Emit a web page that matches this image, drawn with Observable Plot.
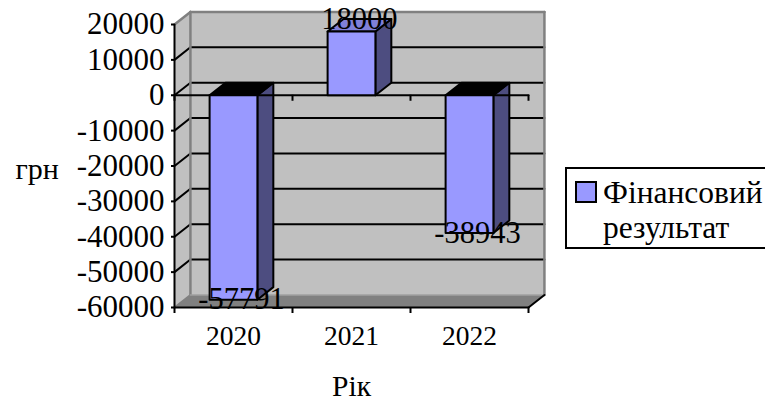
<!DOCTYPE html>
<html lang="uk">
<head>
<meta charset="utf-8">
<script src="https://cdn.jsdelivr.net/npm/d3@7"></script>
<script src="https://cdn.jsdelivr.net/npm/@observablehq/plot@0.6"></script>
<style>
  html, body { margin: 0; padding: 0; background: #fff; overflow: hidden; }
  #chart { position: relative; width: 765px; height: 403px; overflow: hidden; }
  #chart, #chart * , #chart svg text { font-family: "Liberation Serif", "Times New Roman", serif !important; }
  #legend { position: absolute; left: 565px; top: 167px; width: 210px; height: 78px; border: 2px solid #000; background: #fff; color: #000; font-size: 31.5px; line-height: 35px; }
  #legend .swatch { position: absolute; left: 8px; top: 12px; width: 18px; height: 18px; background: #9999ff; border: 2px solid #000; }
  #legend .label { position: absolute; left: 36px; top: 6px; white-space: nowrap; }
</style>
</head>
<body>
<div id="chart">
  <div id="legend"><span class="swatch"></span><span class="label" id="legend-label"></span></div>
</div>
<script>
const years = ["2020", "2021", "2022"];
const results = [-57791, 18000, -38943];
const yTicks = [20000, 10000, 0, -10000, -20000, -30000, -40000, -50000, -60000];
const seriesName = ["Фінансовий", "результат"];
const categoryEdges = [0, 1, 2, 3];

// Pseudo-3D depth, in data units of each axis
const depthX = 0.135;
const depthY = 3550;
const barWidth = 0.405;
const yMin = -60000, yMax = 20000;

const face = (pts, fill, stroke = "none", strokeWidth = 2) =>
  Plot.line(pts.map(([x, y]) => ({x, y})), {x: "x", y: "y", fill, stroke, strokeWidth, strokeLinejoin: "round"});

const seg = (x1, y1, x2, y2, stroke = "#000", strokeWidth = 2) =>
  Plot.line([{x: x1, y: y1}, {x: x2, y: y2}], {x: "x", y: "y", stroke, strokeWidth});

const marks = [];

// Walls and floor
marks.push(face([[0, yMin], [depthX, yMin + depthY], [depthX, yMax + depthY], [0, yMax]], "#c0c0c0"));
marks.push(face([[depthX, yMin + depthY], [3 + depthX, yMin + depthY], [3 + depthX, yMax + depthY], [depthX, yMax + depthY]], "#c0c0c0"));
marks.push(face([[0, yMin], [depthX, yMin + depthY], [3 + depthX, yMin + depthY], [3, yMin]], "#808080"));

// Gridlines across the back wall and down the side wall
for (const t of yTicks.slice(1, -1)) {
  marks.push(seg(depthX, t + depthY, 3 + depthX, t + depthY));
  marks.push(seg(0, t, depthX, t + depthY));
}
marks.push(seg(0, yMin, depthX, yMin + depthY, "#808080"));

// Wall edges
marks.push(seg(0, yMax, depthX, yMax + depthY, "#808080", 2.5));
marks.push(seg(depthX, yMax + depthY, 3 + depthX, yMax + depthY, "#808080", 2.5));
marks.push(seg(depthX, yMax + depthY, depthX, yMin + depthY, "#808080", 2.5));
marks.push(seg(3 + depthX, yMax + depthY, 3 + depthX, yMin + depthY, "#808080", 2.5));
marks.push(seg(depthX, yMin + depthY, 3 + depthX, yMin + depthY, "#a0a0a0", 1.5));
marks.push(seg(3, yMin, 3 + depthX, yMin + depthY));

// Bars: side and top faces
results.forEach((v, i) => {
  const x1 = i + 0.5 - barWidth / 2;
  const x2 = i + 0.5 + barWidth / 2;
  const top = Math.max(v, 0);
  const topFill = v >= 0 ? "#8080d8" : "#000";
  marks.push(face([[x2, 0], [x2 + depthX, depthY], [x2 + depthX, v + depthY], [x2, v], [x2, 0]], "#4d4d80", "#000", 2));
  marks.push(face([[x1, top], [x1 + depthX, top + depthY], [x2 + depthX, top + depthY], [x2, top], [x1, top]], topFill, "#000", 2));
});

// Zero axis runs in front of the walls but behind the bar fronts
marks.push(seg(0, 0, 3, 0));
marks.push(Plot.ruleX(categoryEdges, {x: d => d, y1: 0, y2: -1700, stroke: "#000", strokeWidth: 2}));

results.forEach((v, i) => {
  const x1 = i + 0.5 - barWidth / 2;
  const x2 = i + 0.5 + barWidth / 2;
  marks.push(face([[x1, 0], [x2, 0], [x2, v], [x1, v], [x1, 0]], "#9999ff", "#000", 2));
});

// Axes
marks.push(seg(0, yMin, 0, yMax));
marks.push(seg(0, yMin, 3, yMin));
marks.push(Plot.ruleX(categoryEdges, {x: d => d, y1: yMin, y2: yMin - 1700, stroke: "#000", strokeWidth: 2}));
marks.push(Plot.axisY({ticks: yTicks, tickSize: 3, tickPadding: 7, strokeWidth: 2, fontSize: 31, tickFormat: d => String(d), label: null}));
marks.push(Plot.text(years, {x: (d, i) => i + 0.5, y: yMin, dy: 29, text: d => d, fontSize: 27.5}));

// Value labels: centred on a loss, resting above a profit
const labelX = d => results.indexOf(d) + 0.5 + depthX / 2;
marks.push(Plot.text(results.filter(v => v < 0), {x: labelX, y: d => d, text: d => String(d), dy: 0, fontSize: 30.5, fill: "#000"}));
marks.push(Plot.text(results.filter(v => v >= 0), {x: labelX, y: d => d, text: d => String(d), dy: -12, fontSize: 30.5, fill: "#000"}));

// Axis titles
marks.push(Plot.text(["грн"], {frameAnchor: "left", dx: -159, dy: 3, textAnchor: "start", fontSize: 30, text: d => d}));
marks.push(Plot.text(["Рік"], {x: 1.5, y: yMin, dy: 79, fontSize: 29.5, text: d => d}));

const chart = Plot.plot({
  width: 765,
  height: 403,
  marginLeft: 174,
  marginRight: 237,
  marginTop: 24,
  marginBottom: 96,
  style: {background: "transparent", color: "#000", overflow: "visible"},
  x: {type: "linear", domain: [0, 3], axis: null},
  y: {type: "linear", domain: [yMin, yMax], axis: null},
  marks
});
document.getElementById("chart").prepend(chart);
document.getElementById("legend-label").innerHTML = seriesName.join("<br>");
</script>
</body>
</html>
